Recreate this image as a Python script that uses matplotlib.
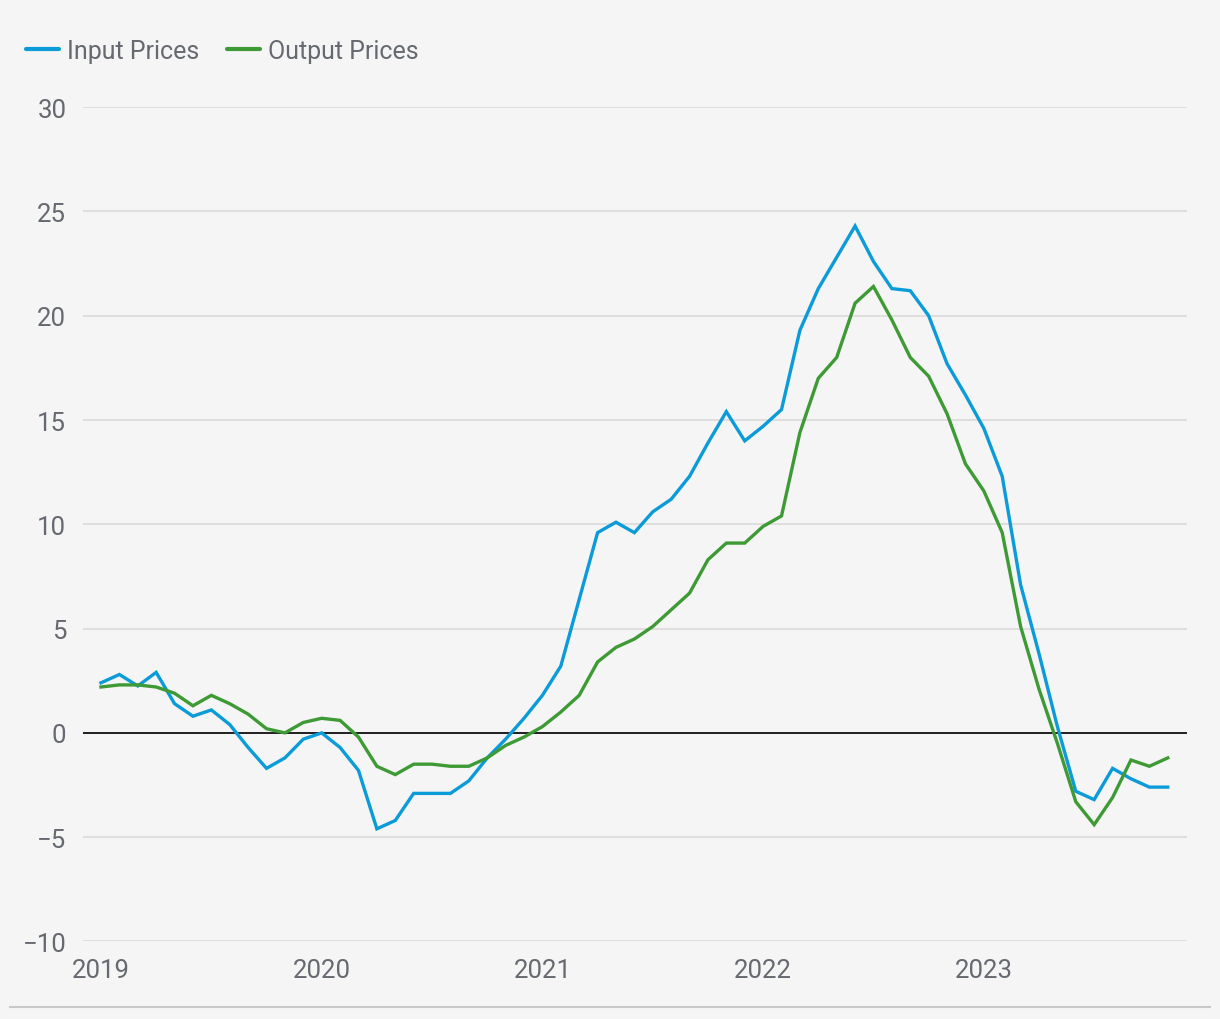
import numpy as np
import matplotlib.pyplot as plt
from matplotlib.lines import Line2D

# Monthly series, Jan 2019 - Nov 2023
input_prices = [2.4, 2.8, 2.25, 2.9, 1.4, 0.8, 1.1, 0.4, -0.7, -1.7,
                -1.2, -0.3, 0.0, -0.7, -1.8, -4.6, -4.2, -2.9, -2.9, -2.9,
                -2.3, -1.2, -0.3, 0.7, 1.8, 3.2, 6.4, 9.6, 10.1, 9.6,
                10.6, 11.2, 12.3, 13.9, 15.4, 14.0, 14.7, 15.5, 19.3, 21.3,
                22.8, 24.3, 22.6, 21.3, 21.2, 20.0, 17.7, 16.2, 14.6, 12.3,
                7.1, 3.8, 0.3, -2.8, -3.2, -1.7, -2.2, -2.6, -2.6]
output_prices = [2.2, 2.3, 2.3, 2.2, 1.9, 1.3, 1.8, 1.4, 0.9, 0.2,
                 0.0, 0.5, 0.7, 0.6, -0.2, -1.6, -2.0, -1.5, -1.5, -1.6,
                 -1.6, -1.2, -0.6, -0.2, 0.3, 1.0, 1.8, 3.4, 4.1, 4.5,
                 5.1, 5.9, 6.7, 8.3, 9.1, 9.1, 9.9, 10.4, 14.4, 17.0,
                 18.0, 20.6, 21.4, 19.8, 18.0, 17.1, 15.3, 12.9, 11.6, 9.6,
                 5.1, 2.1, -0.5, -3.3, -4.4, -3.1, -1.3, -1.6, -1.2]
year_labels = ['2019', '2020', '2021', '2022', '2023']
y_ticks = [-10, -5, 0, 5, 10, 15, 20, 25, 30]

bg = '#f5f5f5'
blue = '#0a9bd8'
green = '#3d9a35'
grey_text = '#666a70'

plt.rcParams['font.family'] = ['Roboto', 'DejaVu Sans']

fig = plt.figure(figsize=(12.2, 10.2), dpi=100, facecolor=bg)
ax = fig.add_axes([0.068, 0.076, 0.905, 0.818], facecolor=bg)

months = np.arange(len(input_prices))
ax.plot(months, input_prices, color=blue, lw=2.4, solid_joinstyle='miter', zorder=3)
ax.plot(months, output_prices, color=green, lw=2.4, solid_joinstyle='miter', zorder=3)
ax.axhline(0, color='#111111', lw=1.3, zorder=2)

ax.set_xlim(-0.98, 59.05)
ax.set_ylim(-10, 30)
ax.set_yticks(y_ticks)
ax.set_yticklabels([str(t).replace('-', '\u2212') for t in y_ticks])
ax.set_xticks(np.arange(len(year_labels)) * 12)
ax.set_xticklabels(year_labels)
ax.grid(axis='y', color='#dcdcdc', lw=1.3, zorder=1)
for s in ax.spines.values():
    s.set_visible(False)
ax.tick_params(axis='both', length=0, labelsize=18.5, labelcolor=grey_text)
ax.tick_params(axis='y', pad=12)
ax.tick_params(axis='x', pad=12)

handles = [Line2D([], [], color=blue, lw=3, solid_capstyle='round'),
           Line2D([], [], color=green, lw=3, solid_capstyle='round')]
leg = fig.legend(handles, ['Input Prices', 'Output Prices'], loc='upper left',
                 bbox_to_anchor=(0.003, 0.983), ncol=2, frameon=False,
                 fontsize=18, handlelength=1.3, handletextpad=0.35,
                 columnspacing=1.1, labelcolor=grey_text)

fig.add_artist(Line2D([0.008, 0.992], [0.012, 0.012], color='#c8c8c8', lw=1.5,
                      transform=fig.transFigure))

fig.savefig('out.png', dpi=100, facecolor=bg)
